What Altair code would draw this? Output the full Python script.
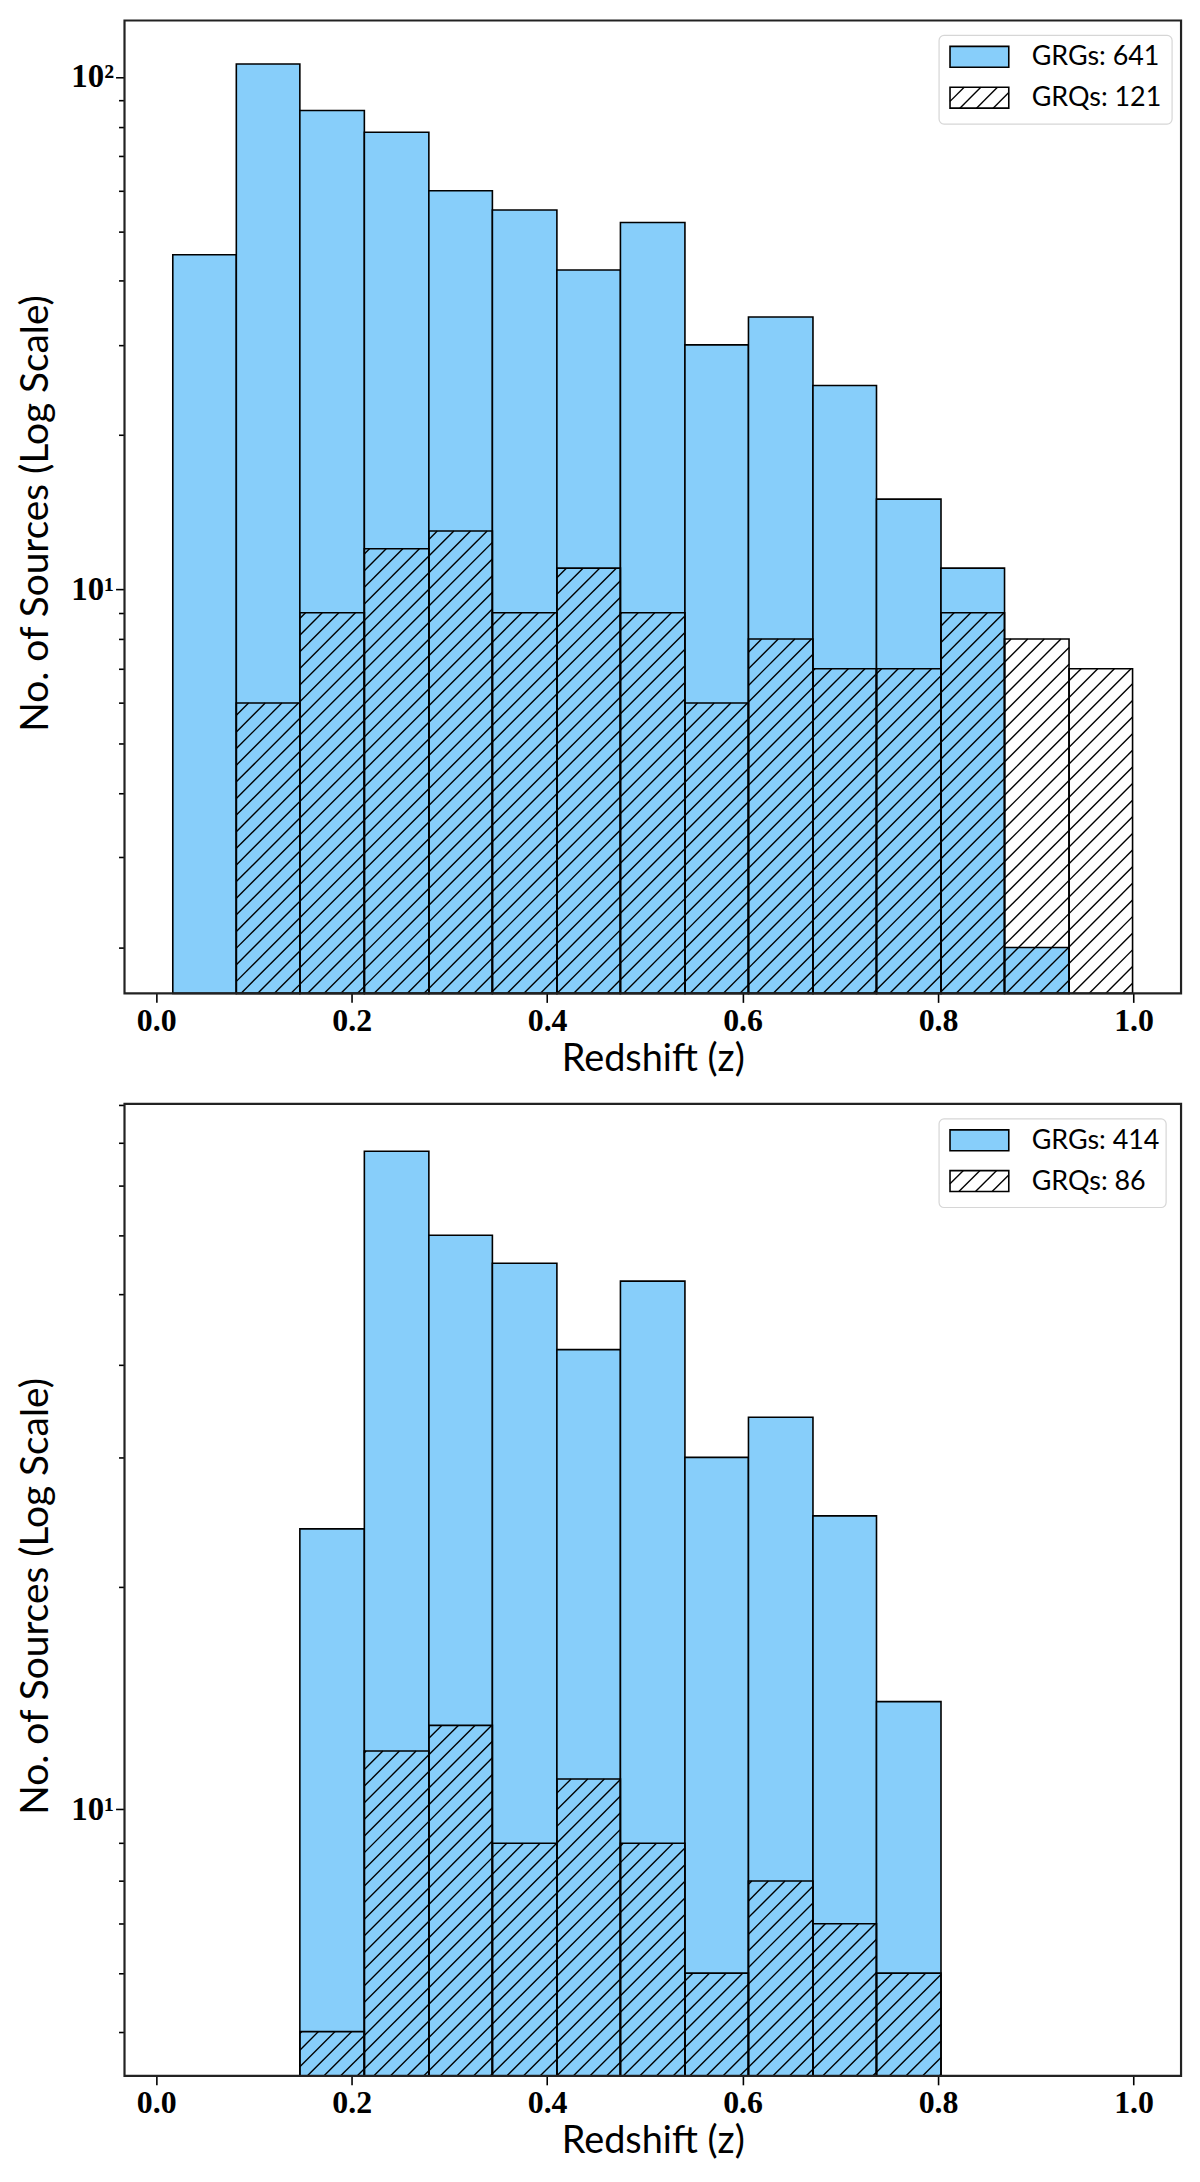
import numpy as np
import pandas as pd
import altair as alt

# bin edges of the redshift histogram
edges = [0.017, 0.082, 0.147, 0.213, 0.279, 0.344, 0.410, 0.475,
         0.541, 0.606, 0.672, 0.737, 0.803, 0.868, 0.934, 0.999]

# counts per bin, upper panel
grg_top = [45, 106, 86, 78, 60, 55, 42, 52, 30, 34, 25, 15, 11, 2, 0]
grq_top = [0, 6, 9, 12, 13, 9, 11, 9, 6, 8, 7, 7, 9, 8, 7]

# counts per bin, lower panel
grg_bot = [0, 0, 24, 78, 60, 55, 42, 52, 30, 34, 25, 14, 0, 0, 0]
grq_bot = [0, 0, 5, 12, 13, 9, 11, 9, 6, 8, 7, 6, 0, 0, 0]

totals_top = [641, 121]
totals_bot = [414, 86]

BLUE = '#87CEFA'
W = 1061
X_DOM = [-0.0324, 1.0486]
SANS = 'Lato'
SERIF = 'Liberation Serif'
HATCH = 16.7


def clip_hatch(X0, X1, B, T, spacing=HATCH):
    # '/' lines (slope +1, y pointing up) clipped to a rectangle, pixel space
    segs = []
    k = np.floor((X0 - T) / spacing) * spacing
    while k <= X1 - B:
        xa = max(X0, B + k)
        xb = min(X1, T + k)
        if xb > xa:
            segs.append((xa, xa - k, xb, xb - k))
        k += spacing
    return segs


def panel(grg, grq, y_dom, y_ticks, totals, H, box_right):
    lo, hi = np.log10(y_dom[0]), np.log10(y_dom[1])
    to_px = lambda x: (x - X_DOM[0]) / (X_DOM[1] - X_DOM[0]) * W
    from_px = lambda X: X_DOM[0] + X / W * (X_DOM[1] - X_DOM[0])
    py = lambda v: (np.log10(v) - lo) / (hi - lo) * H
    from_py = lambda Y: 10 ** (lo + Y / H * (hi - lo))
    from_top = lambda Y: from_py(H - Y)

    df = pd.DataFrame({'lo': edges[:-1], 'hi': edges[1:], 'grg': grg, 'grq': grq})
    df_grg = df[df['grg'] > 0].rename(columns={'grg': 'n'})
    df_grq = df[df['grq'] > 0].rename(columns={'grq': 'n'})

    rows = []
    for _, r in df_grq.iterrows():
        for xa, ya, xb, yb in clip_hatch(to_px(r['lo']), to_px(r['hi']), 0, py(r['n'])):
            rows.append({'lo': from_px(xa), 'hi': from_px(xb), 'n': from_py(ya), 'n2': from_py(yb)})
    # hatch of the legend swatch
    for xa, ya, xb, yb in clip_hatch(829, 888, H - 88, H - 67):
        rows.append({'lo': from_px(xa), 'hi': from_px(xb), 'n': from_py(ya), 'n2': from_py(yb)})
    df_hatch = pd.DataFrame(rows)

    # legend boxes (frame, swatches) placed through the same scales
    def box(x0, x1, y0, y1):
        return pd.DataFrame({'lo': [from_px(x0)], 'hi': [from_px(x1)],
                             'n': [from_top(y0)], 'n2': [from_top(y1)]})

    xs = alt.Scale(domain=X_DOM, nice=False, zero=False)
    ys = alt.Scale(type='log', domain=y_dom, nice=False)

    major = 'datum.value == 10 || datum.value == 100'
    x_axis = alt.Axis(
        title='Redshift (z)', values=[0, 0.2, 0.4, 0.6, 0.8, 1.0], format='.1f',
        grid=False, domain=False, tickSize=9, tickWidth=1.6, tickColor='black',
        labelFont=SERIF, labelFontWeight='bold', labelFontSize=32, labelColor='black',
        labelPadding=3, labelFlush=False,
        titleFont=SANS, titleFontSize=38, titleFontWeight='normal', titleColor='black',
        titleBaseline='alphabetic', titleY=77, titleX=W / 2,
    )
    y_axis = alt.Axis(
        title='No. of Sources (Log Scale)', values=y_ticks,
        labelExpr="datum.value == 10 ? '10¹' : datum.value == 100 ? '10²' : ''",
        grid=False, domain=False, tickWidth=1.6, tickColor='black',
        tickSize={'condition': {'test': major, 'value': 9}, 'value': 6},
        labelFont=SERIF, labelFontWeight='bold', labelFontSize=33, labelColor='black',
        labelPadding=2, labelOverlap=False, labelFlush=False,
        titleFont=SANS, titleFontSize=39, titleFontWeight='normal', titleColor='black',
        titleBaseline='alphabetic', titleX=-77, titleY=H / 2 + 6, titleAngle=270,
    )
    X = alt.X('lo:Q', scale=xs, axis=x_axis)
    Y = alt.Y('n:Q', scale=ys, axis=y_axis)

    bars_grg = alt.Chart(df_grg).mark_rect(fill=BLUE, stroke='black', strokeWidth=1.6).encode(
        x=X, x2='hi:Q', y=Y, y2=alt.datum(y_dom[0]),
    )
    bars_grq = alt.Chart(df_grq).mark_rect(fillOpacity=0, stroke='black', strokeWidth=1.6).encode(
        x=X, x2='hi:Q', y=Y, y2=alt.datum(y_dom[0]),
    )
    legend_box = alt.Chart(box(818, box_right, 15, 104)).mark_rect(
        fill='white', fillOpacity=0.85, stroke='#d6d6d6', strokeWidth=1.2, cornerRadius=5
    ).encode(x=X, x2='hi:Q', y=Y, y2='n2:Q')
    sw_grg = alt.Chart(box(829, 888, 26, 47)).mark_rect(
        fill=BLUE, stroke='black', strokeWidth=1.6
    ).encode(x=X, x2='hi:Q', y=Y, y2='n2:Q')
    sw_grq = alt.Chart(box(829, 888, 67, 88)).mark_rect(
        fillOpacity=0, stroke='black', strokeWidth=1.6
    ).encode(x=X, x2='hi:Q', y=Y, y2='n2:Q')
    hatch = alt.Chart(df_hatch).mark_rule(color='black', strokeWidth=1.4).encode(
        x=X, x2='hi:Q', y=Y, y2='n2:Q',
    )
    labels = pd.DataFrame({
        'lo': [from_px(911)] * 2,
        'n': [from_top(37), from_top(78)],
        'txt': ['GRGs: %d' % totals[0], 'GRQs: %d' % totals[1]],
    })
    text = alt.Chart(labels).mark_text(
        align='left', baseline='middle', font=SANS, fontSize=27, color='black'
    ).encode(x=X, y=Y, text='txt:N')
    # axes frame (all four spines)
    spines = alt.Chart(pd.DataFrame({'lo': [X_DOM[0]], 'hi': [X_DOM[1]],
                                     'n': [y_dom[1]], 'n2': [y_dom[0]]})).mark_rect(
        fillOpacity=0, stroke='#222222', strokeWidth=2.2
    ).encode(x=X, x2='hi:Q', y=Y, y2='n2:Q')

    return alt.layer(bars_grg, legend_box, sw_grg, sw_grq, hatch, bars_grq, text, spines).properties(
        width=W, height=H)


top = panel(grg_top, grq_top, [1.627, 128.9], [2, 3, 4, 5, 6, 7, 8, 9, 10, 20, 30, 40, 50, 60, 70, 80, 90, 100],
            totals_top, 977, 1052)
bot = panel(grg_bot, grq_bot, [4.355, 90.4], [5, 6, 7, 8, 9, 10, 20, 30, 40, 50, 60, 70, 80, 90],
            totals_bot, 976, 1046)

chart = alt.vconcat(top, bot, spacing=11).properties(
    padding={'left': 9, 'top': 6, 'right': 9, 'bottom': 9}
).configure(
    background='white'
).configure_view(
    strokeWidth=0
)

chart.save('out.html', embed_options={'renderer': 'svg', 'actions': False})
